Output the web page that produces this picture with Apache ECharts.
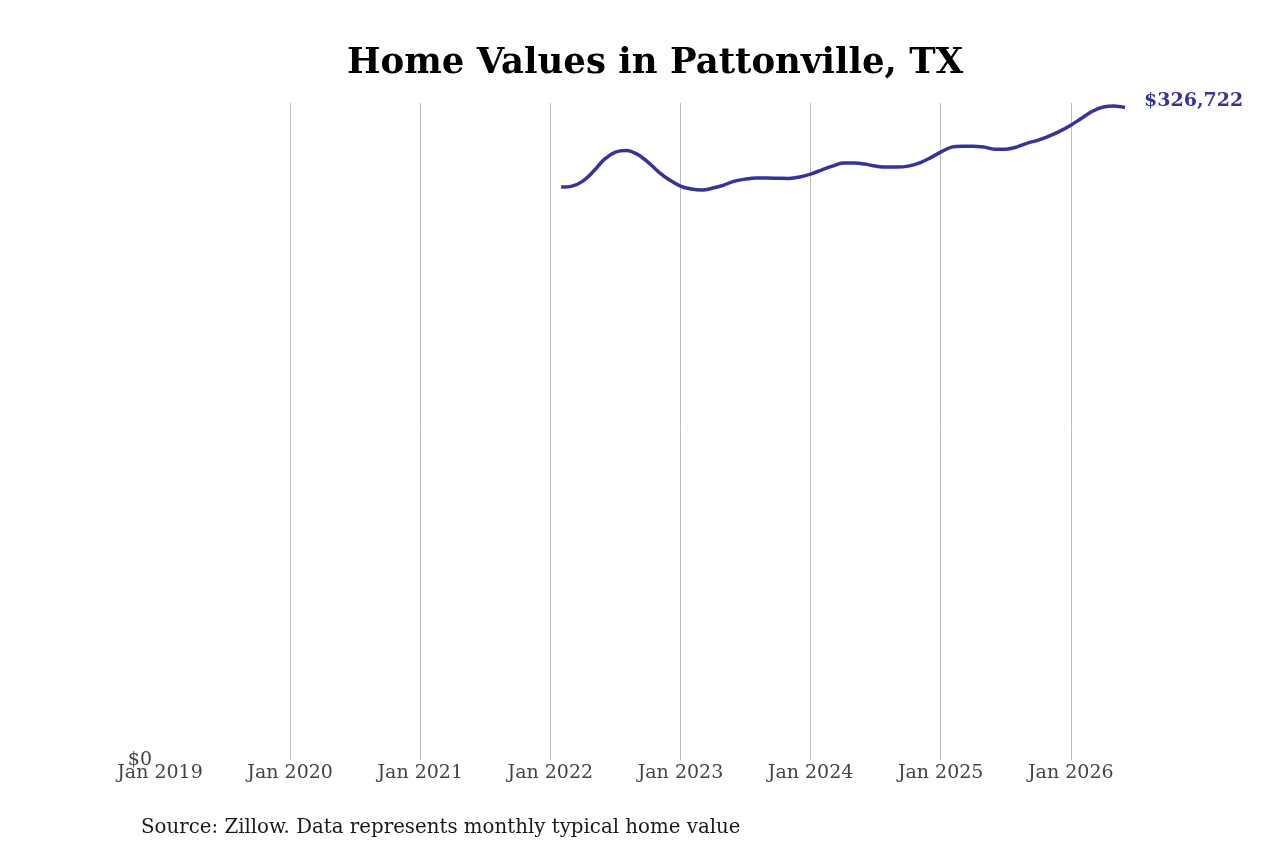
<!DOCTYPE html>
<html>
<head>
<meta charset="utf-8">
<title>Home Values in Pattonville, TX</title>
<script src="https://cdn.jsdelivr.net/npm/echarts@6/dist/echarts.min.js"></script>
<style>
  html, body { margin: 0; padding: 0; background: #fff; }
  #chart { width: 1280px; height: 853px; }
</style>
</head>
<body>
<div id="chart"></div>
<script>
// monthly typical home value (Zillow), month-end dates
var months = [
  '2022-01', '2022-02', '2022-03', '2022-04', '2022-05', '2022-06',
  '2022-07', '2022-08', '2022-09', '2022-10', '2022-11', '2022-12',
  '2023-01', '2023-02', '2023-03', '2023-04', '2023-05', '2023-06',
  '2023-07', '2023-08', '2023-09', '2023-10', '2023-11', '2023-12',
  '2024-01', '2024-02', '2024-03', '2024-04', '2024-05', '2024-06',
  '2024-07', '2024-08', '2024-09', '2024-10', '2024-11', '2024-12',
  '2025-01', '2025-02', '2025-03', '2025-04', '2025-05', '2025-06',
  '2025-07', '2025-08', '2025-09', '2025-10', '2025-11', '2025-12',
  '2026-01', '2026-02', '2026-03', '2026-04', '2026-05'
];
var homeValues = [
  286900, 287400, 289900, 294900, 300900, 304400,
  305200, 303400, 299400, 294400, 290400, 287400,
  285900, 285400, 286400, 287900, 289900, 290900,
  291400, 291400, 291300, 291200, 291900, 293400,
  295400, 297400, 298900, 298900, 298400, 297400,
  296900, 296900, 297400, 298900, 301400, 304400,
  306900, 307400, 307400, 306900, 305900, 305900,
  306900, 308900, 310400, 312400, 314900, 317900,
  321400, 324900, 327000, 327500, 326722
];
var startYear = 2019;
var yearLabels = ['Jan 2019', 'Jan 2020', 'Jan 2021', 'Jan 2022', 'Jan 2023', 'Jan 2024', 'Jan 2025', 'Jan 2026'];

// x = months since Jan 2019, month-end sits at start of next month
function monthIndex(ym) {
  var parts = ym.split('-');
  return (parseInt(parts[0], 10) - startYear) * 12 + parseInt(parts[1], 10);
}

var seriesData = months.map(function (m, i) {
  return [monthIndex(m), homeValues[i]];
});
var lastX = seriesData[seriesData.length - 1][0];

var serif = 'DejaVu Serif';
var lineColor = '#38339a';

var chart = echarts.init(document.getElementById('chart'), null, { renderer: 'canvas' });

// hide the lines at the axis ends (Jan 2019 and the last month)
var gridColors = ['rgba(0,0,0,0)'];
for (var i = 1; i < yearLabels.length; i++) {
  gridColors.push('#bdbdbd');
}
gridColors.push('rgba(0,0,0,0)');

var option = {
  backgroundColor: '#ffffff',
  animation: false,
  title: {
    text: 'Home Values in Pattonville, TX',
    left: 342,
    top: 41,
    textStyle: {
      fontFamily: serif,
      fontWeight: 'bold',
      fontSize: 35.5,
      color: '#000'
    }
  },
  graphic: [{
    type: 'text',
    left: 141,
    top: 818,
    style: {
      text: 'Source: Zillow. Data represents monthly typical home value',
      font: '19.8px "DejaVu Serif"',
      fill: '#1a1a1a'
    }
  }],
  grid: {
    left: 160,
    right: 155,
    top: 103,
    bottom: 93,
    containLabel: false
  },
  xAxis: {
    type: 'value',
    min: 0,
    max: lastX,
    interval: 12,
    axisLine: { show: false },
    axisTick: { show: false },
    axisLabel: {
      margin: 4,
      fontFamily: serif,
      fontSize: 19,
      color: '#444',
      showMaxLabel: false,
      formatter: function (v) {
        if (v % 12 !== 0) return '';
        return yearLabels[v / 12] || '';
      }
    },
    splitLine: {
      show: true,
      lineStyle: { color: gridColors, width: 1 }
    }
  },
  yAxis: {
    type: 'value',
    min: 0,
    max: 329000,
    interval: 329000,
    axisLine: { show: false },
    axisTick: { show: false },
    splitLine: { show: false },
    axisLabel: {
      margin: 8,
      fontFamily: serif,
      fontSize: 19,
      color: '#444',
      padding: [3, 0, 0, 0],
      formatter: function (v) {
        return v === 0 ? '$0' : '';
      }
    }
  },
  series: [{
    type: 'line',
    data: seriesData,
    smooth: 0.35,
    showSymbol: false,
    lineStyle: { color: lineColor, width: 3.5 },
    endLabel: {
      show: true,
      distance: 19,
      offset: [0, -6],
      fontFamily: serif,
      fontWeight: 'bold',
      fontSize: 19,
      color: lineColor,
      formatter: function (p) {
        return '$' + p.value[1].toLocaleString('en-US');
      }
    }
  }]
};

chart.setOption(option);
</script>
</body>
</html>
